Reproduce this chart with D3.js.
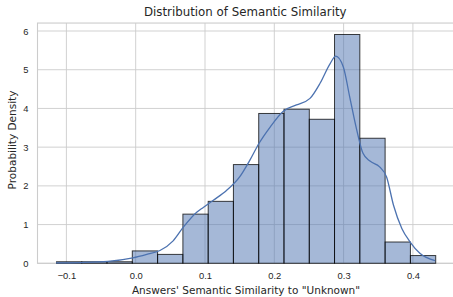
<!DOCTYPE html>
<html>
<head>
  <meta charset="utf-8">
  <title>Distribution of Semantic Similarity</title>
  <style>
    body { margin: 0; background: #fff; }
    svg { display: block; font-family: "DejaVu Sans", sans-serif; }
    .tick text { fill: #262626; }
  </style>
</head>
<body>
  <script src="https://cdn.jsdelivr.net/npm/d3@7"></script>
  <script>
    // histogram bins (edges) and density heights
    var binEdges = [-0.1143, -0.0778, -0.0414, -0.0049, 0.0316, 0.0681, 0.1046, 0.1410,
      0.1775, 0.2140, 0.2505, 0.2869, 0.3234, 0.3599, 0.3964, 0.4329];
    var density = [0.04, 0.04, 0.04, 0.32, 0.23, 1.27, 1.60, 2.55, 3.87, 3.98, 3.72, 5.91, 3.23, 0.55, 0.20];

    // kde curve, points
    var kdeX = [-0.115, -0.08, -0.04, -0.004, 0.016, 0.035, 0.054, 0.069, 0.088, 0.098, 0.112, 0.131,
      0.150, 0.165, 0.178, 0.194, 0.213, 0.232, 0.2515, 0.266, 0.2806, 0.2886, 0.2996, 0.309, 0.319,
      0.328, 0.338, 0.352, 0.362, 0.372, 0.384, 0.396, 0.410, 0.432];
    var kdeY = [0.01, 0.02, 0.05, 0.14, 0.23, 0.33, 0.58, 0.94, 1.32, 1.45, 1.63, 1.88,
      2.23, 2.67, 3.10, 3.52, 3.93, 4.09, 4.26, 4.65, 5.16, 5.35, 5.07, 4.28, 3.44,
      2.84, 2.64, 2.49, 2.23, 1.50, 0.90, 0.55, 0.26, 0.07];

    var xTicks = [-0.1, 0.0, 0.1, 0.2, 0.3, 0.4];
    var yTicks = [0, 1, 2, 3, 4, 5, 6];

    var width = 453, height = 297;
    var svg = d3.select("body").append("svg")
      .attr("width", width)
      .attr("height", height);

    var x = d3.scaleLinear().domain([-0.1417, 0.4603]).range([37.5, 454.7]);
    var y = d3.scaleLinear().domain([0, 6.2055]).range([263.3, 23.05]);

    var grid = "#cccccc";

    // grid lines
    svg.append("g").selectAll("line").data(xTicks).enter().append("line")
      .attr("x1", d => x(d)).attr("x2", d => x(d))
      .attr("y1", y.range()[0]).attr("y2", y.range()[1])
      .attr("stroke", grid).attr("stroke-width", 0.9);
    svg.append("g").selectAll("line").data(yTicks).enter().append("line")
      .attr("x1", x.range()[0]).attr("x2", x.range()[1])
      .attr("y1", d => y(d)).attr("y2", d => y(d))
      .attr("stroke", grid).attr("stroke-width", 0.9);

    // spines
    svg.append("rect")
      .attr("x", x.range()[0]).attr("y", y.range()[1])
      .attr("width", x.range()[1] - x.range()[0])
      .attr("height", y.range()[0] - y.range()[1])
      .attr("fill", "none").attr("stroke", grid).attr("stroke-width", 1.1);

    // bars
    svg.append("g").selectAll("rect").data(density).enter().append("rect")
      .attr("x", (d, i) => x(binEdges[i]))
      .attr("width", (d, i) => x(binEdges[i + 1]) - x(binEdges[i]))
      .attr("y", d => y(d))
      .attr("height", d => y(0) - y(d))
      .attr("fill", "#4C72B0").attr("fill-opacity", 0.5)
      .attr("stroke", "#000").attr("stroke-opacity", 0.75).attr("stroke-width", 1);

    // kde line
    var line = d3.line()
      .x((d, i) => x(kdeX[i]))
      .y(d => y(d))
      .curve(d3.curveMonotoneX);
    svg.append("path")
      .attr("d", line(kdeY))
      .attr("fill", "none")
      .attr("stroke", "#4C72B0")
      .attr("stroke-width", 1.3);

    // axes (labels only)
    var xAxis = svg.append("g")
      .attr("transform", "translate(0," + y(0) + ")")
      .call(d3.axisBottom(x).tickValues(xTicks).tickFormat(d3.format(".1f")).tickSize(0).tickPadding(9));
    xAxis.select(".domain").remove();
    xAxis.selectAll("text").attr("font-size", 9.4);

    var yAxis = svg.append("g")
      .attr("transform", "translate(" + x.range()[0] + ",0)")
      .call(d3.axisLeft(y).tickValues(yTicks).tickFormat(d3.format("d")).tickSize(0).tickPadding(9));
    yAxis.select(".domain").remove();
    yAxis.selectAll("text").attr("font-size", 9.4);

    svg.append("text")
      .attr("x", (x.range()[0] + 453) / 2).attr("y", 16)
      .attr("text-anchor", "middle")
      .attr("font-size", 11.8).attr("fill", "#262626")
      .text("Distribution of Semantic Similarity");

    svg.append("text")
      .attr("x", 246).attr("y", 293.5)
      .attr("text-anchor", "middle")
      .attr("font-size", 10.5).attr("fill", "#262626")
      .text("Answers' Semantic Similarity to \"Unknown\"");

    svg.append("text")
      .attr("transform", "translate(16,140) rotate(-90)")
      .attr("text-anchor", "middle")
      .attr("font-size", 10.5).attr("fill", "#262626")
      .text("Probability Density");
  </script>
</body>
</html>
